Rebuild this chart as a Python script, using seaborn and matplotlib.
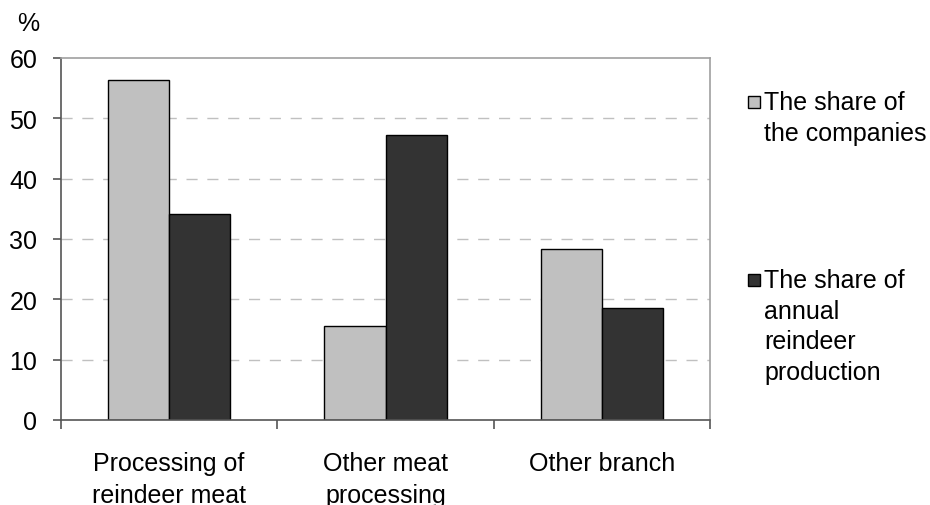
import matplotlib
matplotlib.use("Agg")
import matplotlib.pyplot as plt
from matplotlib.patches import Rectangle
import seaborn as sns
import pandas as pd

categories = ["Processing of\nreindeer meat", "Other meat\nprocessing", "Other branch"]
series_names = ["The share of\nthe companies", "The share of\nannual\nreindeer\nproduction"]
share_companies = [56.4, 15.5, 28.3]
share_production = [34.2, 47.2, 18.6]
y_ticks = [0, 10, 20, 30, 40, 50, 60]
bar_colors = ["#c0c0c0", "#333333"]

df = pd.DataFrame({
    "category": categories * 2,
    "series": [series_names[0]] * 3 + [series_names[1]] * 3,
    "value": share_companies + share_production,
})

sns.set_style("white")
plt.rcParams["font.family"] = ["Liberation Sans", "DejaVu Sans"]
plt.rcParams["text.color"] = "black"
plt.rcParams["xtick.color"] = "black"
plt.rcParams["ytick.color"] = "black"
FS = 18

fig = plt.figure(figsize=(9.3, 5.06), dpi=100)
ax = fig.add_axes([61 / 930, 1 - 421 / 506, (710 - 61) / 930, (421 - 59) / 506])

sns.barplot(data=df, x="category", y="value", hue="series", order=categories,
            hue_order=series_names, palette=bar_colors, width=0.565,
            edgecolor="black", linewidth=1.0, saturation=1, legend=False, ax=ax)

ax.set_xlim(-0.5, 2.5)
ax.set_ylim(0, 60)
ax.set_xlabel("")
ax.set_ylabel("")

# dashed horizontal grid
ax.set_yticks(y_ticks)
ax.set_yticklabels([str(v) for v in y_ticks])
for v in y_ticks[1:-1]:
    ax.axhline(v, color="#c0c0c0", lw=1.0, ls=(0, (8, 7)), zorder=0)

# spines
for side in ("left", "bottom"):
    ax.spines[side].set_color("#555555")
    ax.spines[side].set_linewidth(1.2)
for side in ("top", "right"):
    ax.spines[side].set_visible(True)
    ax.spines[side].set_color("#a0a0a0")
    ax.spines[side].set_linewidth(1.2)

# category labels at centres, ticks on boundaries
ax.set_xticks(range(len(categories)))
ax.set_xticklabels(categories, fontsize=FS, linespacing=1.45, va="top")
ax.set_xticks([-0.5, 0.5, 1.5, 2.5], minor=True)
ax.tick_params(axis="x", which="major", bottom=True, length=0, pad=22)
ax.tick_params(axis="x", which="minor", bottom=True, length=6.5, width=1.2,
               color="#555555", direction="out")
ax.tick_params(axis="y", which="major", left=True, length=6, width=1.2,
               color="#555555", labelcolor="black", direction="out", labelsize=FS, pad=11)

fig.text(28 / 930, 1 - 24 / 506, "%", fontsize=FS, ha="center", va="center")

# legend drawn beside the plot area
legend_rows = [(103, series_names[0], bar_colors[0]), (281, series_names[1], bar_colors[1])]
for y_px, label, color in legend_rows:
    fig.patches.append(Rectangle((748 / 930, 1 - (y_px + 6) / 506), 12 / 930, 12 / 506,
                                 transform=fig.transFigure, facecolor=color,
                                 edgecolor="black", linewidth=1.0))
    fig.text(764 / 930, 1 - (y_px - 12) / 506, label, fontsize=FS, ha="left", va="top",
             linespacing=1.35)

fig.savefig("out.png", dpi=100)
